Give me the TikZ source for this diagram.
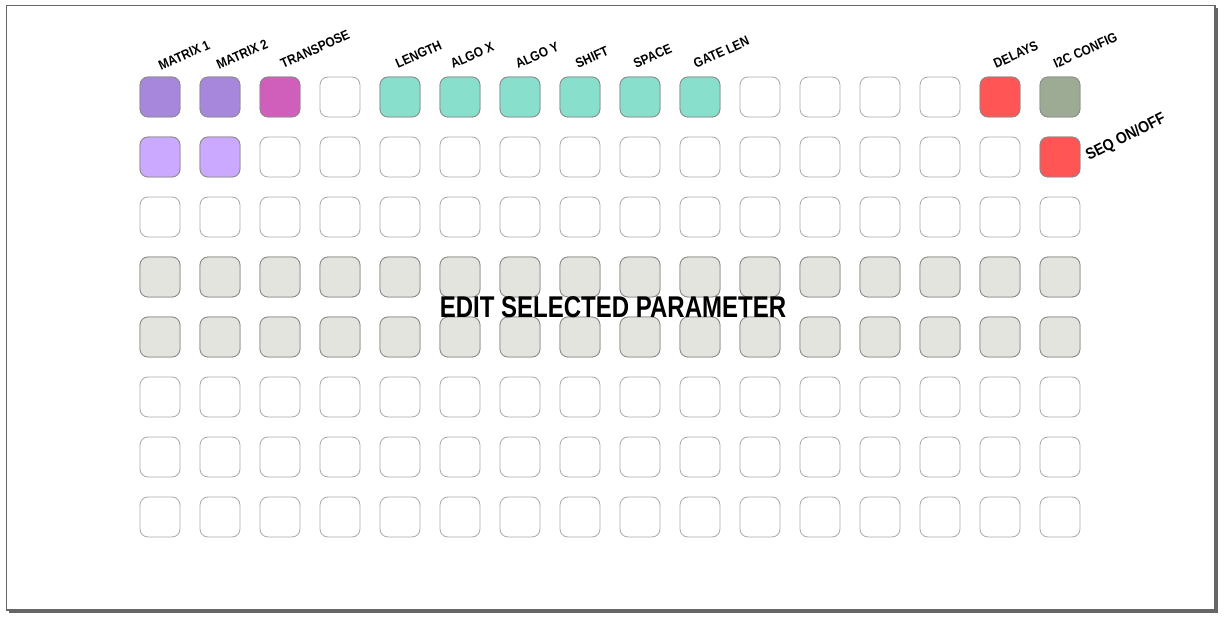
\documentclass[tikz,border=0pt]{standalone}
\usepackage{fontspec}
\usetikzlibrary{calc}
\setmainfont{Liberation Sans}
\newfontfamily\titlefont[FakeStretch=0.8]{Liberation Sans Bold}
\newfontfamily\labfont[FakeStretch=0.88]{Liberation Sans Bold}
\definecolor{framegray}{HTML}{666666}
\definecolor{padborder}{HTML}{AAAAAA}
\definecolor{filledborder}{HTML}{8A8A8A}
\definecolor{cpurple}{HTML}{A787DB}
\definecolor{clilac}{HTML}{CBA9FF}
\definecolor{cmagenta}{HTML}{D05FBC}
\definecolor{cteal}{HTML}{88DFCC}
\definecolor{cred}{HTML}{FF5555}
\definecolor{csage}{HTML}{9EAB94}
\definecolor{clight}{HTML}{E3E4DD}
\tikzset{
  pad/.style={draw=padborder, fill=white, line width=0.8pt, rounded corners=8pt,
    minimum width=40pt, minimum height=40pt, inner sep=0pt},
  filledpad/.style={pad, draw=filledborder, fill=#1},
  toplabel/.style={anchor=base west, rotate=24, inner sep=0pt, font=\labfont\fontsize{13.5}{13.5}\selectfont},
}
\begin{document}
\begin{tikzpicture}[x=1pt,y=-1pt]
\useasboundingbox (0,0) rectangle (1224,617);
% frame and shadow
\fill[framegray] (9,609) rectangle (1218,612.5);
\fill[framegray] (1214.5,8) rectangle (1218,612.5);
\draw[framegray, line width=1.6pt] (6.5,5.5) rectangle (1215,610);
% grid
\foreach \r in {0,...,7}{
  \foreach \c in {0,...,15}{
    \pgfmathsetmacro{\px}{160+60*\c}
    \pgfmathsetmacro{\py}{97+60*\r}
    \node[pad] (p-\r-\c) at (\px,\py) {};
  }
}
% coloured pads
\foreach \c in {0,1}{\node[filledpad=cpurple] (p-0-\c) at (p-0-\c) {};}
\node[filledpad=cmagenta] (p-0-2) at (p-0-2) {};
\foreach \c in {4,...,9}{\node[filledpad=cteal] (p-0-\c) at (p-0-\c) {};}
\node[filledpad=cred] (p-0-14) at (p-0-14) {};
\node[filledpad=csage] (p-0-15) at (p-0-15) {};
\foreach \c in {0,1}{\node[filledpad=clilac] (p-1-\c) at (p-1-\c) {};}
\node[filledpad=cred] (p-1-15) at (p-1-15) {};
\foreach \r in {3,4}{
  \foreach \c in {0,...,15}{\node[filledpad=clight] (p-\r-\c) at (p-\r-\c) {};}
}
% labels
\node[toplabel] (l0) at ($(p-0-0.north)+(1,-6)$) {MATRIX 1};
\node[toplabel] (l1) at ($(p-0-1.north)+(-1,-7)$) {MATRIX 2};
\node[toplabel] (l2) at ($(p-0-2.north)+(3,-8)$) {TRANSPOSE};
\node[toplabel] (l4) at ($(p-0-4.north)+(-2,-8)$) {LENGTH};
\node[toplabel] (l5) at ($(p-0-5.north)+(-7,-8)$) {ALGO X};
\node[toplabel] (l6) at ($(p-0-6.north)+(-2,-8)$) {ALGO Y};
\node[toplabel] (l7) at ($(p-0-7.north)+(-2,-8)$) {SHIFT};
\node[toplabel] (l8) at ($(p-0-8.north)+(-4,-8)$) {SPACE};
\node[toplabel] (l9) at ($(p-0-9.north)+(-4,-8)$) {GATE LEN};
\node[toplabel] (l14) at ($(p-0-14.north)+(-4,-8)$) {DELAYS};
\node[toplabel] (l15) at ($(p-0-15.north)+(-4,-8)$) {I2C CONFIG};
\node[anchor=base west, rotate=27, inner sep=0pt, font=\labfont\fontsize{16}{16}\selectfont]
  (lseq) at (1089,161) {SEQ ON/OFF};
\node[inner sep=0pt, font=\titlefont\fontsize{30}{30}\selectfont] (title) at (613,307) {EDIT SELECTED PARAMETER};
\end{tikzpicture}
\end{document}
